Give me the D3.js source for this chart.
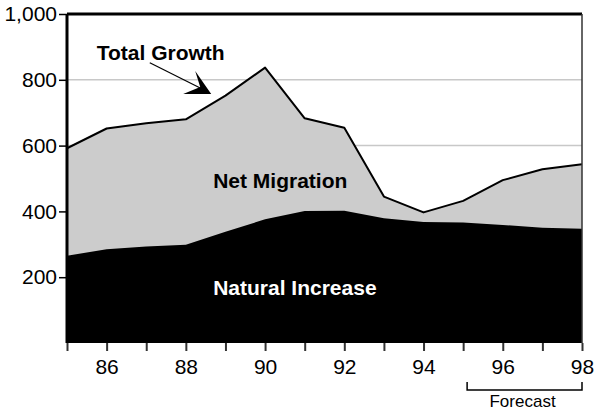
<!DOCTYPE html>
<html>
<head>
<meta charset="utf-8">
<script src="https://cdn.jsdelivr.net/npm/d3@7"></script>
<style>
  body { margin: 0; background: #fff; }
  svg { display: block; font-family: Arial, "Liberation Sans", sans-serif; }
</style>
</head>
<body>
<div id="chart"></div>
<script>
// Population growth components, thousands
const years = [85, 86, 87, 88, 89, 90, 91, 92, 93, 94, 95, 96, 97, 98];
const totalGrowth = [592, 652, 668, 680, 752, 837, 683, 654, 445, 397, 432, 495, 528, 543];
const naturalIncrease = [265, 285, 293, 299, 338, 376, 401, 402, 379, 368, 366, 359, 350, 347];
const yTicks = [200, 400, 600, 800, 1000];
const xLabelYears = [86, 88, 90, 92, 94, 96, 98];
const forecastRange = [95.1, 98];

const data = years.map((yr, i) => ({ year: yr, total: totalGrowth[i], natural: naturalIncrease[i] }));

const W = 595, H = 412;
const margin = { top: 14, right: 13, bottom: 69, left: 67 };
const width = W - margin.left - margin.right;
const height = H - margin.top - margin.bottom;

const svg = d3.select("#chart").append("svg")
  .attr("width", W)
  .attr("height", H);

const g = svg.append("g")
  .attr("transform", `translate(${margin.left},${margin.top})`);

const x = d3.scaleLinear().domain([85, 98]).range([0, width]);
const y = d3.scaleLinear().domain([0, 1000]).range([height, 0]);

// gridlines
g.selectAll(".grid")
  .data(yTicks.filter(d => d < 1000))
  .enter()
  .append("line")
  .attr("x1", 0)
  .attr("x2", width)
  .attr("y1", d => y(d))
  .attr("y2", d => y(d))
  .attr("stroke", "#c8c8c8")
  .attr("stroke-width", 1.5);

// net migration (total) area
const totalArea = d3.area()
  .x(d => x(d.year))
  .y0(height)
  .y1(d => y(d.total));

g.append("path")
  .datum(data)
  .attr("fill", "#cccccc")
  .attr("d", totalArea);

// natural increase area
const naturalArea = d3.area()
  .x(d => x(d.year))
  .y0(height)
  .y1(d => y(d.natural));

g.append("path")
  .datum(data)
  .attr("fill", "#000")
  .attr("d", naturalArea);

// total growth line
const totalLine = d3.line()
  .x(d => x(d.year))
  .y(d => y(d.total));

g.append("path")
  .datum(data)
  .attr("fill", "none")
  .attr("stroke", "#000")
  .attr("stroke-width", 2)
  .attr("stroke-linejoin", "round")
  .attr("d", totalLine);

// frame: top and right border
g.append("line")
  .attr("x1", 0).attr("x2", width)
  .attr("y1", 0).attr("y2", 0)
  .attr("stroke", "#000")
  .attr("stroke-width", 3);

g.append("line")
  .attr("x1", width).attr("x2", width)
  .attr("y1", 0).attr("y2", height)
  .attr("stroke", "#333")
  .attr("stroke-width", 1.5);

// y axis
const yAxis = g.append("g")
  .call(d3.axisLeft(y).tickValues(yTicks).tickSize(8).tickPadding(2).tickFormat(d3.format(",")));

yAxis.select(".domain")
  .attr("stroke", "#000")
  .attr("stroke-width", 3)
  .attr("d", `M0,0V${height}`);
yAxis.selectAll(".tick line").attr("stroke", "#000").attr("stroke-width", 1.5);
yAxis.selectAll(".tick text")
  .attr("fill", "#000")
  .style("font-size", "21px");

// x axis
const xAxis = g.append("g")
  .attr("transform", `translate(0,${height})`)
  .call(d3.axisBottom(x).tickValues(years).tickSize(8).tickPadding(8)
    .tickFormat(d => xLabelYears.includes(d) ? d : ""));

xAxis.select(".domain").remove();
xAxis.selectAll(".tick line").attr("stroke", "#333").attr("stroke-width", 2);
xAxis.selectAll(".tick text")
  .attr("fill", "#000")
  .style("font-size", "21px");

// forecast bracket
const bracketY = height + 47;
g.append("path")
  .attr("fill", "none")
  .attr("stroke", "#000")
  .attr("stroke-width", 1.5)
  .attr("d", `M${x(forecastRange[0])},${bracketY - 8}V${bracketY}H${x(forecastRange[1])}V${bracketY - 8}`);

g.append("text")
  .attr("x", x((forecastRange[0] + forecastRange[1]) / 2) - 2)
  .attr("y", bracketY + 17)
  .attr("text-anchor", "middle")
  .style("font-size", "17px")
  .text("Forecast");

// labels (left-aligned, placed in data units)
g.append("text")
  .attr("x", x(85.75))
  .attr("y", y(860))
  .attr("font-weight", "bold")
  .style("font-size", "21px")
  .text("Total Growth");

g.append("text")
  .attr("x", x(88.69))
  .attr("y", y(471))
  .attr("font-weight", "bold")
  .style("font-size", "21px")
  .text("Net Migration");

g.append("text")
  .attr("x", x(88.69))
  .attr("y", y(146))
  .attr("font-weight", "bold")
  .attr("fill", "#fff")
  .style("font-size", "21px")
  .text("Natural Increase");

// arrow from label to line
const tail = [x(87.09), y(852)];
const tip = [x(88.64), y(757)];
g.append("line")
  .attr("x1", tail[0]).attr("y1", tail[1])
  .attr("x2", tip[0] - 11).attr("y2", tip[1] - 6)
  .attr("stroke", "#000")
  .attr("stroke-width", 1.2);

g.append("path")
  .attr("fill", "#000")
  .attr("d", `M${tip[0]},${tip[1]}L${tip[0] - 16},${tip[1] - 23}L${tip[0] - 11},${tip[1] - 7}L${tip[0] - 28},${tip[1]}Z`);
</script>
</body>
</html>
